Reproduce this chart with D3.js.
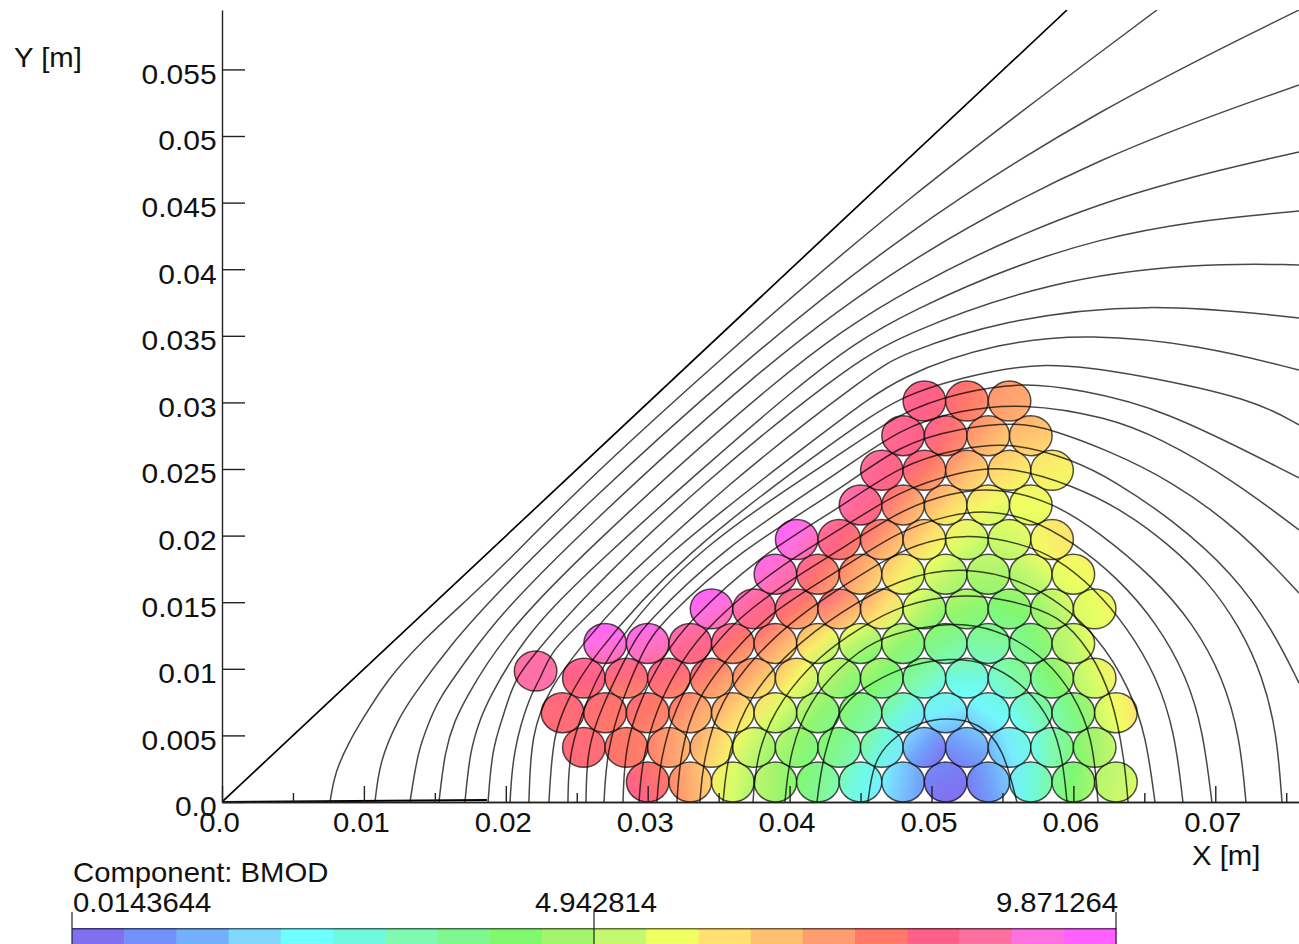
<!DOCTYPE html>
<html>
<head>
<meta charset="utf-8">
<script src="https://d3js.org/d3.v7.min.js"></script>
<style>
  html, body { margin: 0; padding: 0; background: #fff; overflow: hidden; }
  text { font-family: "Liberation Sans", Arial, sans-serif; font-size: 27.5px; fill: #111; }
</style>
</head>
<body>
<div id="chart"></div>
<script>
// Tick positions and labels (metres)
var xMajorTicks = [0, 0.01, 0.02, 0.03, 0.04, 0.05, 0.06, 0.07];
var xMajorLabels = ["0.0", "0.01", "0.02", "0.03", "0.04", "0.05", "0.06", "0.07"];
var xMinorTicks = [0.005, 0.015, 0.025, 0.035, 0.045, 0.055, 0.065, 0.075];
var yTicks = [0, 0.005, 0.01, 0.015, 0.02, 0.025, 0.03, 0.035, 0.04, 0.045, 0.05, 0.055];
var yLabels = ["0.0", "0.005", "0.01", "0.015", "0.02", "0.025", "0.03", "0.035", "0.04", "0.045", "0.05", "0.055"];

// Colour bar: min / mid / max of BMOD and the 20 bands
var bmodLabels = ["0.0143644", "4.942814", "9.871264"];
var bmodStops = [0.0143644, 4.942814, 9.871264];
var bandColors = ["#8070f0", "#7090fb", "#72b0fb", "#80d8fc", "#70ffff", "#70f8e0", "#80fab0", "#80f890",
  "#80f870", "#a4f46e", "#c4f86e", "#f0ff62", "#ffe070", "#ffc070", "#ff9c70", "#ff7868",
  "#ff6088", "#ff70a0", "#ff70e0", "#ff60ff"];

// Conductor circles, in mm: centre height of each row, centres along it, BMOD of each
var circleRadius = 1.5;
var rowY = [1.5, 4.1, 6.7, 9.3, 11.9, 14.5, 17.1, 19.7, 22.3, 24.9, 27.5, 30.1];
var rowX = [
  [30, 33, 36, 39, 42, 45, 48, 51, 54, 57, 60, 63],
  [25.5, 28.5, 31.5, 34.5, 37.5, 40.5, 43.5, 46.5, 49.5, 52.5, 55.5, 58.5, 61.5],
  [24, 27, 30, 33, 36, 39, 42, 45, 48, 51, 54, 57, 60, 63],
  [25.5, 28.5, 31.5, 34.5, 37.5, 40.5, 43.5, 46.5, 49.5, 52.5, 55.5, 58.5, 61.5],
  [27, 30, 33, 36, 39, 42, 45, 48, 51, 54, 57, 60],
  [34.5, 37.5, 40.5, 43.5, 46.5, 49.5, 52.5, 55.5, 58.5, 61.5],
  [39, 42, 45, 48, 51, 54, 57, 60],
  [40.5, 43.5, 46.5, 49.5, 52.5, 55.5, 58.5],
  [45, 48, 51, 54, 57],
  [46.5, 49.5, 52.5, 55.5, 58.5],
  [48, 51, 54, 57],
  [49.5, 52.5, 55.5]
];
var rowBmod = [
  [7.90, 6.91, 5.44, 4.70, 3.71, 2.58, 1.49, 0.41, 1.00, 2.72, 4.20, 5.19],
  [7.90, 7.65, 7.16, 6.42, 5.19, 4.45, 3.71, 2.72, 1.00, 1.00, 1.99, 3.22, 4.70],
  [7.90, 7.75, 7.65, 7.16, 6.42, 5.44, 4.45, 3.71, 2.72, 1.99, 2.13, 2.97, 3.96, 5.68],
  [8.15, 7.90, 7.90, 7.41, 6.77, 5.83, 4.70, 4.20, 3.22, 2.72, 3.22, 4.20, 5.44],
  [9.13, 8.99, 8.39, 7.75, 7.06, 5.93, 4.94, 4.45, 3.71, 3.46, 3.96, 5.19],
  [9.13, 8.39, 7.65, 7.16, 6.17, 4.94, 4.45, 4.20, 4.94, 5.59],
  [8.89, 7.75, 6.91, 5.93, 5.19, 4.84, 5.19, 5.68],
  [9.13, 8.05, 7.16, 6.27, 5.44, 5.34, 5.93],
  [8.39, 7.26, 6.42, 5.78, 5.68],
  [8.30, 7.65, 6.77, 6.17, 5.93],
  [8.30, 7.80, 6.91, 6.57],
  [8.15, 7.65, 7.06]
];
// the one circle that sits off the lattice
var looseCircle = { x: 22.1, y: 9.83, bmod: 8.15 };

// Flux lines, in mm, [x, y]. outerLine runs from the origin, flatLine hugs the x axis
var outerLine = [[0, 0], [59.55, 59.46]];
var flatLine = [[0, 0], [18.67, 0.15]];
var fluxLines = [
  [[7.61,0],[7.96,2.25],[8.95,4.50],[9.87,6.16],[11.63,9.16],[13.95,11.94],[17.48,15.39],[19.59,17.49],[25.23,23.65],[34.25,32.43],[47.78,45.05],[65.89,59.46]],
  [[10.78,0],[11.13,3.15],[12.40,6.16],[13.25,7.66],[16.07,11.79],[19.59,15.92],[25.23,21.92],[36.01,32.43],[47.78,42.57],[61.87,52.11],[75.90,59.46]],
  [[13.25,0],[13.81,3.90],[14.66,6.16],[15.22,7.66],[17.48,11.04],[19.59,14.04],[25.23,20.20],[37.77,32.43],[47.78,40.47],[61.87,48.58],[75.90,53.83]],
  [[15.29,0],[15.71,3.90],[16.42,6.16],[17.12,7.66],[19.59,12.16],[25.23,18.54],[39.67,32.43],[47.78,38.44],[61.87,45.42],[75.90,48.80]],
  [[17.12,0],[17.48,3.90],[18.18,6.16],[18.75,7.66],[21.14,12.16],[25.23,16.89],[41.65,32.43],[47.78,36.71],[61.87,42.95],[75.90,44.37]],
  [[18.75,0],[19.03,3.90],[19.73,6.16],[20.15,7.66],[20.79,9.39],[21.85,10.89],[25.23,15.17],[33.68,23.80],[43.76,32.43],[47.78,35.06],[58.35,39.19],[68.92,40.47],[75.90,40.32]],
  [[20.30,0],[20.51,3.90],[21.70,8.03],[22.41,9.16],[23.11,11.19],[25.23,13.51],[35.80,24.18],[46.02,32.43],[47.78,33.56],[54.83,36.19],[65.18,37.54],[75.90,36.34]],
  [[21.63,0],[21.78,5.18],[23.11,8.56],[25.23,11.64],[30.16,17.79],[43.55,28.68],[47.78,32.06],[54.83,34.54],[61.17,35.14],[68.92,34.31],[75.90,32.43]],
  [[23.04,0],[23.33,5.18],[24.38,7.66],[25.72,10.44],[32.28,18.54],[43.55,27.40],[47.78,30.48],[52.01,31.83],[57.86,33.19],[64.69,32.06],[72.65,30.26],[75.90,28.31]],
  [[24.38,0],[24.45,3.90],[25.72,7.66],[27.55,11.94],[33.68,19.30],[43.55,26.05],[47.78,29.28],[52.01,30.78],[56.59,31.53],[60.46,30.93],[66.10,29.66],[75.90,24.33]],
  [[25.65,0],[25.72,3.90],[26.64,6.91],[28.96,11.94],[29.67,13.14],[35.09,18.92],[43.55,24.78],[47.78,28.08],[52.01,29.43],[56.38,29.96],[62.37,28.91],[66.10,27.33],[71.24,24.18],[75.90,20.42]],
  [[26.92,0],[27.13,3.90],[28.19,7.66],[29.67,11.41],[30.87,13.44],[36.50,18.92],[43.55,23.42],[47.78,26.88],[52.01,28.08],[56.09,28.53],[58.56,27.93],[62.37,26.43],[66.81,24.18],[71.74,20.42],[75.90,15.69]],
  [[28.26,0],[28.40,4.13],[29.46,7.66],[31.08,10.89],[32.77,13.44],[37.91,18.54],[43.55,22.07],[47.78,25.30],[52.01,26.58],[55.74,27.03],[59.97,25.68],[62.79,24.18],[67.02,21.17],[71.24,17.19],[74.06,12.91],[75.90,8.93]],
  [[29.39,0],[29.60,3.15],[30.65,7.13],[32.28,10.44],[34.39,13.44],[39.32,17.79],[43.55,20.42],[47.78,23.42],[52.01,24.78],[55.18,25.30],[59.97,23.80],[63.78,21.70],[66.59,19.45],[69.41,16.67],[71.74,13.14],[73.36,9.39],[74.34,5.18],[74.70,0]],
  [[30.65,0],[30.87,3.15],[31.92,7.13],[33.83,10.66],[36.15,13.66],[40.03,16.67],[43.55,18.92],[47.78,21.92],[51.30,23.20],[54.47,23.65],[58.56,22.52],[61.87,20.20],[65.61,16.89],[68.43,13.44],[70.54,9.39],[71.74,4.88],[72.16,0]],
  [[32.06,0],[32.28,3.53],[33.33,7.66],[35.80,11.04],[38.62,14.27],[43.55,17.42],[47.78,20.42],[51.30,21.55],[53.77,21.92],[56.94,21.32],[59.97,19.52],[63.07,16.89],[65.89,13.44],[68.00,9.39],[69.13,5.41],[69.76,0]],
  [[33.68,0],[33.90,3.15],[35.09,7.66],[37.91,11.41],[40.73,14.04],[43.55,16.07],[47.78,18.92],[50.60,19.82],[53.06,20.05],[56.23,19.45],[58.84,18.32],[61.38,16.14],[63.78,13.14],[65.89,9.39],[67.16,5.18],[67.72,0]],
  [[35.31,0],[35.66,3.90],[37.21,8.03],[40.03,11.41],[43.55,14.27],[47.78,16.82],[52.36,17.79],[57.64,16.29],[61.87,12.39],[63.99,8.41],[65.11,5.03],[65.75,0]],
  [[37.42,0],[37.70,3.90],[39.32,7.66],[42.14,11.04],[44.96,13.06],[47.78,14.79],[52.01,15.69],[55.53,15.17],[59.05,14.04],[61.17,11.41],[62.79,7.88],[63.63,2.93],[63.85,0]],
  [[39.67,0],[40.03,3.90],[41.44,7.66],[43.55,10.14],[45.88,12.16],[49.19,13.14],[52.22,13.51],[55.32,12.69],[58.14,10.66],[59.97,8.18],[61.38,4.88],[61.73,0]],
  [[41.93,0],[42.35,3.53],[43.55,7.13],[44.96,8.41],[47.78,10.14],[51.30,10.89],[54.12,10.44],[56.73,8.63],[58.56,5.93],[59.26,3.15],[59.55,0]],
  [[45.52,0],[45.88,2.93],[47.07,4.65],[48.98,5.93],[51.09,6.38],[53.42,5.93],[55.04,4.13],[56.02,0]]
];

var svgWidth = 1299;
var svgHeight = 944;

var svg = d3.select("#chart")
  .append("svg")
  .attr("width", svgWidth)
  .attr("height", svgHeight)
  .style("display", "block");

var defs = svg.append("defs");

// Plot scales, the picture is a bit wider than it is tall
var xScale = d3.scaleLinear().domain([0, 0.0759]).range([222, 1299]);
var yScale = d3.scaleLinear().domain([0, 0.05946]).range([802, 10]);
var barScale = d3.scaleLinear().domain([bmodStops[0], bmodStops[2]]).range([72, 1116]);

// text in the source is stretched sideways by the same ratio as the axes
var textStretch = 1.065;

defs.append("clipPath").attr("id", "plotClip")
  .append("rect")
  .attr("x", xScale(0)).attr("y", yScale(0.05946))
  .attr("width", xScale(0.0759) - xScale(0))
  .attr("height", yScale(0) - yScale(0.05946));

// BMOD to colour, running through the centres of the bands
var bandStep = (bmodStops[2] - bmodStops[0]) / bandColors.length;
var colorScale = d3.scaleLinear()
  .domain(bandColors.map((c, i) => bmodStops[0] + (i + 0.5) * bandStep))
  .range(bandColors)
  .clamp(true);

// Flatten rows into one list of circles
var circles = [];
rowX.forEach(function(xs, r) {
  xs.forEach(function(xv, i) {
    circles.push({ x: xv, y: rowY[r], bmod: rowBmod[r][i] });
  });
});
circles.push(looseCircle);

// Shade each circle toward its neighbours, so it is not one flat colour
circles.forEach(function(c, i) {
  var gx = 0, gy = 0;
  circles.forEach(function(o) {
    var dx = o.x - c.x, dy = o.y - c.y;
    var dist = Math.sqrt(dx * dx + dy * dy);
    if (dist > 0 && dist < 3.4) {
      gx += (o.bmod - c.bmod) * dx / (dist * dist);
      gy += (o.bmod - c.bmod) * dy / (dist * dist);
    }
  });
  var size = Math.sqrt(gx * gx + gy * gy) || 1;
  var spread = Math.min(size * 0.55, 0.9);
  var ux = gx / size, uy = gy / size;
  var g = defs.append("linearGradient")
    .attr("id", "circleFill" + i)
    .attr("gradientUnits", "userSpaceOnUse")
    .attr("x1", xScale((c.x - ux * circleRadius) / 1000))
    .attr("y1", yScale((c.y - uy * circleRadius) / 1000))
    .attr("x2", xScale((c.x + ux * circleRadius) / 1000))
    .attr("y2", yScale((c.y + uy * circleRadius) / 1000));
  g.append("stop").attr("offset", 0).attr("stop-color", colorScale(c.bmod - spread));
  g.append("stop").attr("offset", 0.5).attr("stop-color", colorScale(c.bmod));
  g.append("stop").attr("offset", 1).attr("stop-color", colorScale(c.bmod + spread));
});

svg.append("g").selectAll("ellipse")
  .data(circles)
  .enter()
  .append("ellipse")
  .attr("cx", d => xScale(d.x / 1000))
  .attr("cy", d => yScale(d.y / 1000))
  .attr("rx", xScale(circleRadius / 1000) - xScale(0))
  .attr("ry", yScale(0) - yScale(circleRadius / 1000))
  .attr("fill", (d, i) => `url(#circleFill${i})`)
  .attr("stroke", "#000")
  .attr("stroke-opacity", 0.68)
  .attr("stroke-width", 1.5);

// Flux lines on top of the circles, basis curve to take the jitter out of the readings
var fluxPath = d3.line()
  .x(d => xScale(d[0] / 1000))
  .y(d => yScale(d[1] / 1000))
  .curve(d3.curveBasis);

var lineGroup = svg.append("g").attr("clip-path", "url(#plotClip)");

lineGroup.selectAll("path.flux")
  .data(fluxLines)
  .enter()
  .append("path")
  .attr("class", "flux")
  .attr("d", fluxPath)
  .attr("fill", "none")
  .attr("stroke", "#000")
  .attr("stroke-opacity", 0.72)
  .attr("stroke-width", 1.5);

lineGroup.append("path")
  .attr("d", fluxPath(outerLine))
  .attr("fill", "none")
  .attr("stroke", "#000")
  .attr("stroke-width", 1.7);

lineGroup.append("path")
  .attr("d", fluxPath(flatLine))
  .attr("fill", "none")
  .attr("stroke", "#000")
  .attr("stroke-width", 2);

// Axes, ticks point into the plot
var xMinorAxis = d3.axisBottom(xScale)
  .tickValues(xMinorTicks)
  .tickSizeInner(-9)
  .tickSizeOuter(0)
  .tickFormat("");
var xMajorAxis = d3.axisBottom(xScale)
  .tickValues(xMajorTicks)
  .tickSizeInner(-16)
  .tickSizeOuter(0)
  .tickPadding(10)
  .tickFormat((d, i) => xMajorLabels[i]);
var yAxis = d3.axisLeft(yScale)
  .tickValues(yTicks)
  .tickSizeInner(-23)
  .tickSizeOuter(0)
  .tickPadding(5)
  .tickFormat((d, i) => yLabels[i]);

svg.append("g")
  .attr("transform", `translate(0, ${yScale(0)})`)
  .call(xMinorAxis);

var xAxisGroup = svg.append("g")
  .attr("transform", `translate(0, ${yScale(0)})`)
  .call(xMajorAxis);

var yAxisGroup = svg.append("g")
  .attr("transform", `translate(${xScale(0)}, 0)`)
  .call(yAxis);

svg.selectAll(".domain, .tick line")
  .attr("stroke", "#222")
  .attr("stroke-width", 1.4);

svg.selectAll(".tick text")
  .style("font-size", "27.5px")
  .style("font-family", "'Liberation Sans', Arial, sans-serif")
  .attr("fill", "#111");

xAxisGroup.selectAll(".tick text")
  .attr("transform", `translate(-3, 0) scale(${textStretch}, 1)`);

yAxisGroup.selectAll(".tick text")
  .attr("transform", `translate(0, 5) scale(1.09, 1)`);

// Plain labels
function addLabel(str, x, y, anchor) {
  svg.append("text")
    .attr("transform", `translate(${x}, ${y}) scale(${textStretch}, 1)`)
    .attr("text-anchor", anchor)
    .text(str);
}

addLabel("Y [m]", 14, 67, "start");
addLabel("X [m]", 1192, 865, "start");
addLabel("Component: BMOD", 73, 882, "start");
addLabel(bmodLabels[0], 73, 912, "start");
addLabel(bmodLabels[1], 596, 912, "middle");
addLabel(bmodLabels[2], 1118, 912, "end");

// Colour bar, runs off the bottom of the window
var barTop = 928;
var bar = svg.append("g");

bar.selectAll("rect.band")
  .data(bandColors)
  .enter()
  .append("rect")
  .attr("class", "band")
  .attr("x", (d, i) => barScale(bmodStops[0] + i * bandStep))
  .attr("y", barTop)
  .attr("width", barScale(bandStep) - barScale(0) + 0.5)
  .attr("height", svgHeight - barTop)
  .attr("fill", d => d);

bar.selectAll("rect.edge")
  .data(bandColors)
  .enter()
  .append("rect")
  .attr("class", "edge")
  .attr("x", (d, i) => barScale(bmodStops[0] + i * bandStep))
  .attr("y", barTop)
  .attr("width", barScale(bandStep) - barScale(0) + 0.5)
  .attr("height", 1.5)
  .attr("fill", d => d3.color(d).darker(2.2));

bar.selectAll("line")
  .data(bmodStops)
  .enter()
  .append("line")
  .attr("x1", d => barScale(d))
  .attr("x2", d => barScale(d))
  .attr("y1", 912)
  .attr("y2", svgHeight)
  .attr("stroke", "#222")
  .attr("stroke-width", 1.2);
</script>
</body>
</html>
